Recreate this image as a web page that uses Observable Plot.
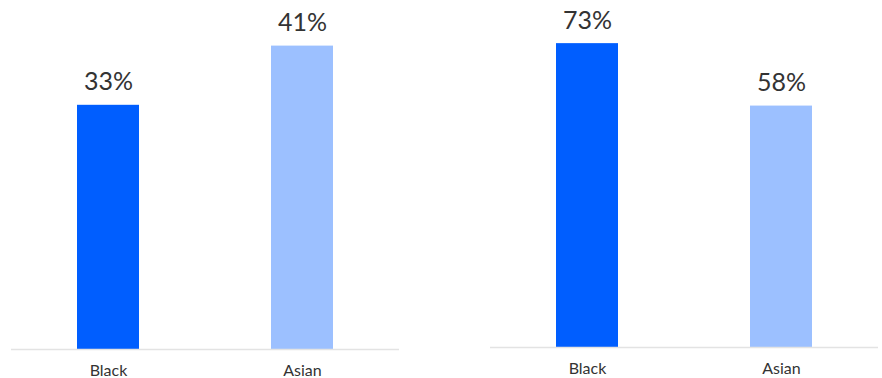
<!DOCTYPE html>
<html>
<head>
<meta charset="utf-8">
<script src="https://cdn.jsdelivr.net/npm/d3@7"></script>
<script src="https://cdn.jsdelivr.net/npm/@observablehq/plot@0.6"></script>
<style>
  html, body { margin: 0; padding: 0; background: #fff; }
  #wrap { display: flex; width: 882px; height: 378px; overflow: hidden; }
  #wrap svg { display: block; }
</style>
</head>
<body>
<div id="wrap"></div>
<script>
const categories = ["Black", "Asian"];
const leftValues = [33, 41];
const rightValues = [73, 58];
const barColors = ["#005eff", "#9cc0ff"];

function panel(values, opts) {
  const data = categories.map((c, i) => ({cat: c, value: values[i]}));
  return Plot.plot({
    width: 441,
    height: 378,
    marginLeft: opts.ml,
    marginRight: opts.mr,
    marginTop: opts.mt,
    marginBottom: opts.mb,
    style: {fontFamily: "Lato, sans-serif", color: "#333"},
    x: {domain: categories, paddingInner: 0.68, paddingOuter: 0.34, label: null},
    y: {domain: opts.domain, axis: null},
    color: {domain: categories, range: barColors},
    marks: [
      Plot.barY(data, {x: "cat", y: "value", fill: "cat"}),
      Plot.ruleY([0], {stroke: "#e3e3e3", strokeWidth: 1.5}),
      Plot.text(data, {x: "cat", y: "value", text: d => d.value + "%", lineAnchor: "bottom", dy: -15, fontSize: 25, fill: "#333"}),
      Plot.axisX({tickSize: 0, tickPadding: 15, fontSize: 16, fill: "#333", label: null})
    ]
  });
}

const wrap = document.getElementById("wrap");
wrap.appendChild(panel(leftValues, {ml: 11, mr: 42, mt: 16, mb: 29, domain: [0, 45]}));
wrap.appendChild(panel(rightValues, {ml: 49, mr: 4, mt: 14, mb: 31, domain: [0, 80]}));
</script>
</body>
</html>
